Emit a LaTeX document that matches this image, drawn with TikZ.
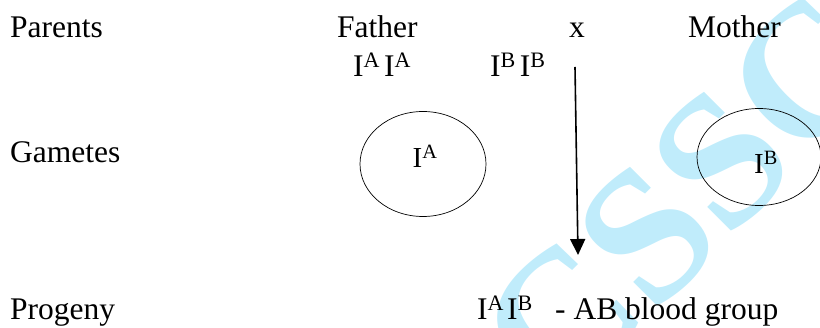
\documentclass[tikz,border=0pt]{standalone}
\usepackage{fontspec}
\setmainfont{Liberation Serif}
\usetikzlibrary{shapes.geometric,arrows.meta}
\definecolor{wmark}{RGB}{192,236,251}
\begin{document}
\begin{tikzpicture}[x=1pt,y=-1pt,
  lbl/.style={anchor=base west, inner sep=0pt, font=\fontsize{31.5}{36}\selectfont},
  glbl/.style={anchor=base, inner sep=0pt, font=\fontsize{29}{32}\selectfont},
  gamete/.style={draw, ellipse, inner sep=0pt, line width=0.7pt},
  cross/.style={line width=1.6pt, -{Triangle[length=16pt,width=15pt]}}
]
\useasboundingbox (0,0) rectangle (820,328);
% watermark
\begin{scope}
\clip (0,0) rectangle (820,328);
\node[text=wmark, rotate=45, inner sep=0pt, font=\fontsize{190}{190}\selectfont\bfseries] (wm) at (684,198) {CSSC};
\end{scope}
% row labels
\node[lbl] (parents) at (10,38) {Parents};
\node[lbl] (gametes) at (10,163) {Gametes};
\node[lbl] (progeny) at (10,320) {Progeny};
% parents
\node[lbl] (father) at (337,38) {Father};
\node[lbl] (x) at (569,38) {x};
\node[lbl] (mother) at (688,38) {Mother};
\node[lbl] (fgen) at (353,77) {I\textsuperscript{A}\hspace{4pt}I\textsuperscript{A}};
\node[lbl] (mgen) at (490,77) {I\textsuperscript{B}\hspace{4pt}I\textsuperscript{B}};
% gametes
\node[gamete, minimum width=126pt, minimum height=105pt] (g1) at (423,164) {};
\node[glbl] (g1l) at (425,168) {I\textsuperscript{A}};
\node[gamete, minimum width=124pt, minimum height=97pt] (g2) at (759,157) {};
\node[glbl] (g2l) at (766,174) {I\textsuperscript{B}};
% progeny
\node[lbl] (prog) at (477,320) {I\textsuperscript{A}\hspace{3pt}I\textsuperscript{B}};
\node[lbl] (blood) at (555,320) {- AB blood group};
% arrow
\coordinate (astart) at (575,67);
\coordinate (aend) at (578,255);
\draw[cross] (astart) -- (aend);
\end{tikzpicture}
\end{document}
